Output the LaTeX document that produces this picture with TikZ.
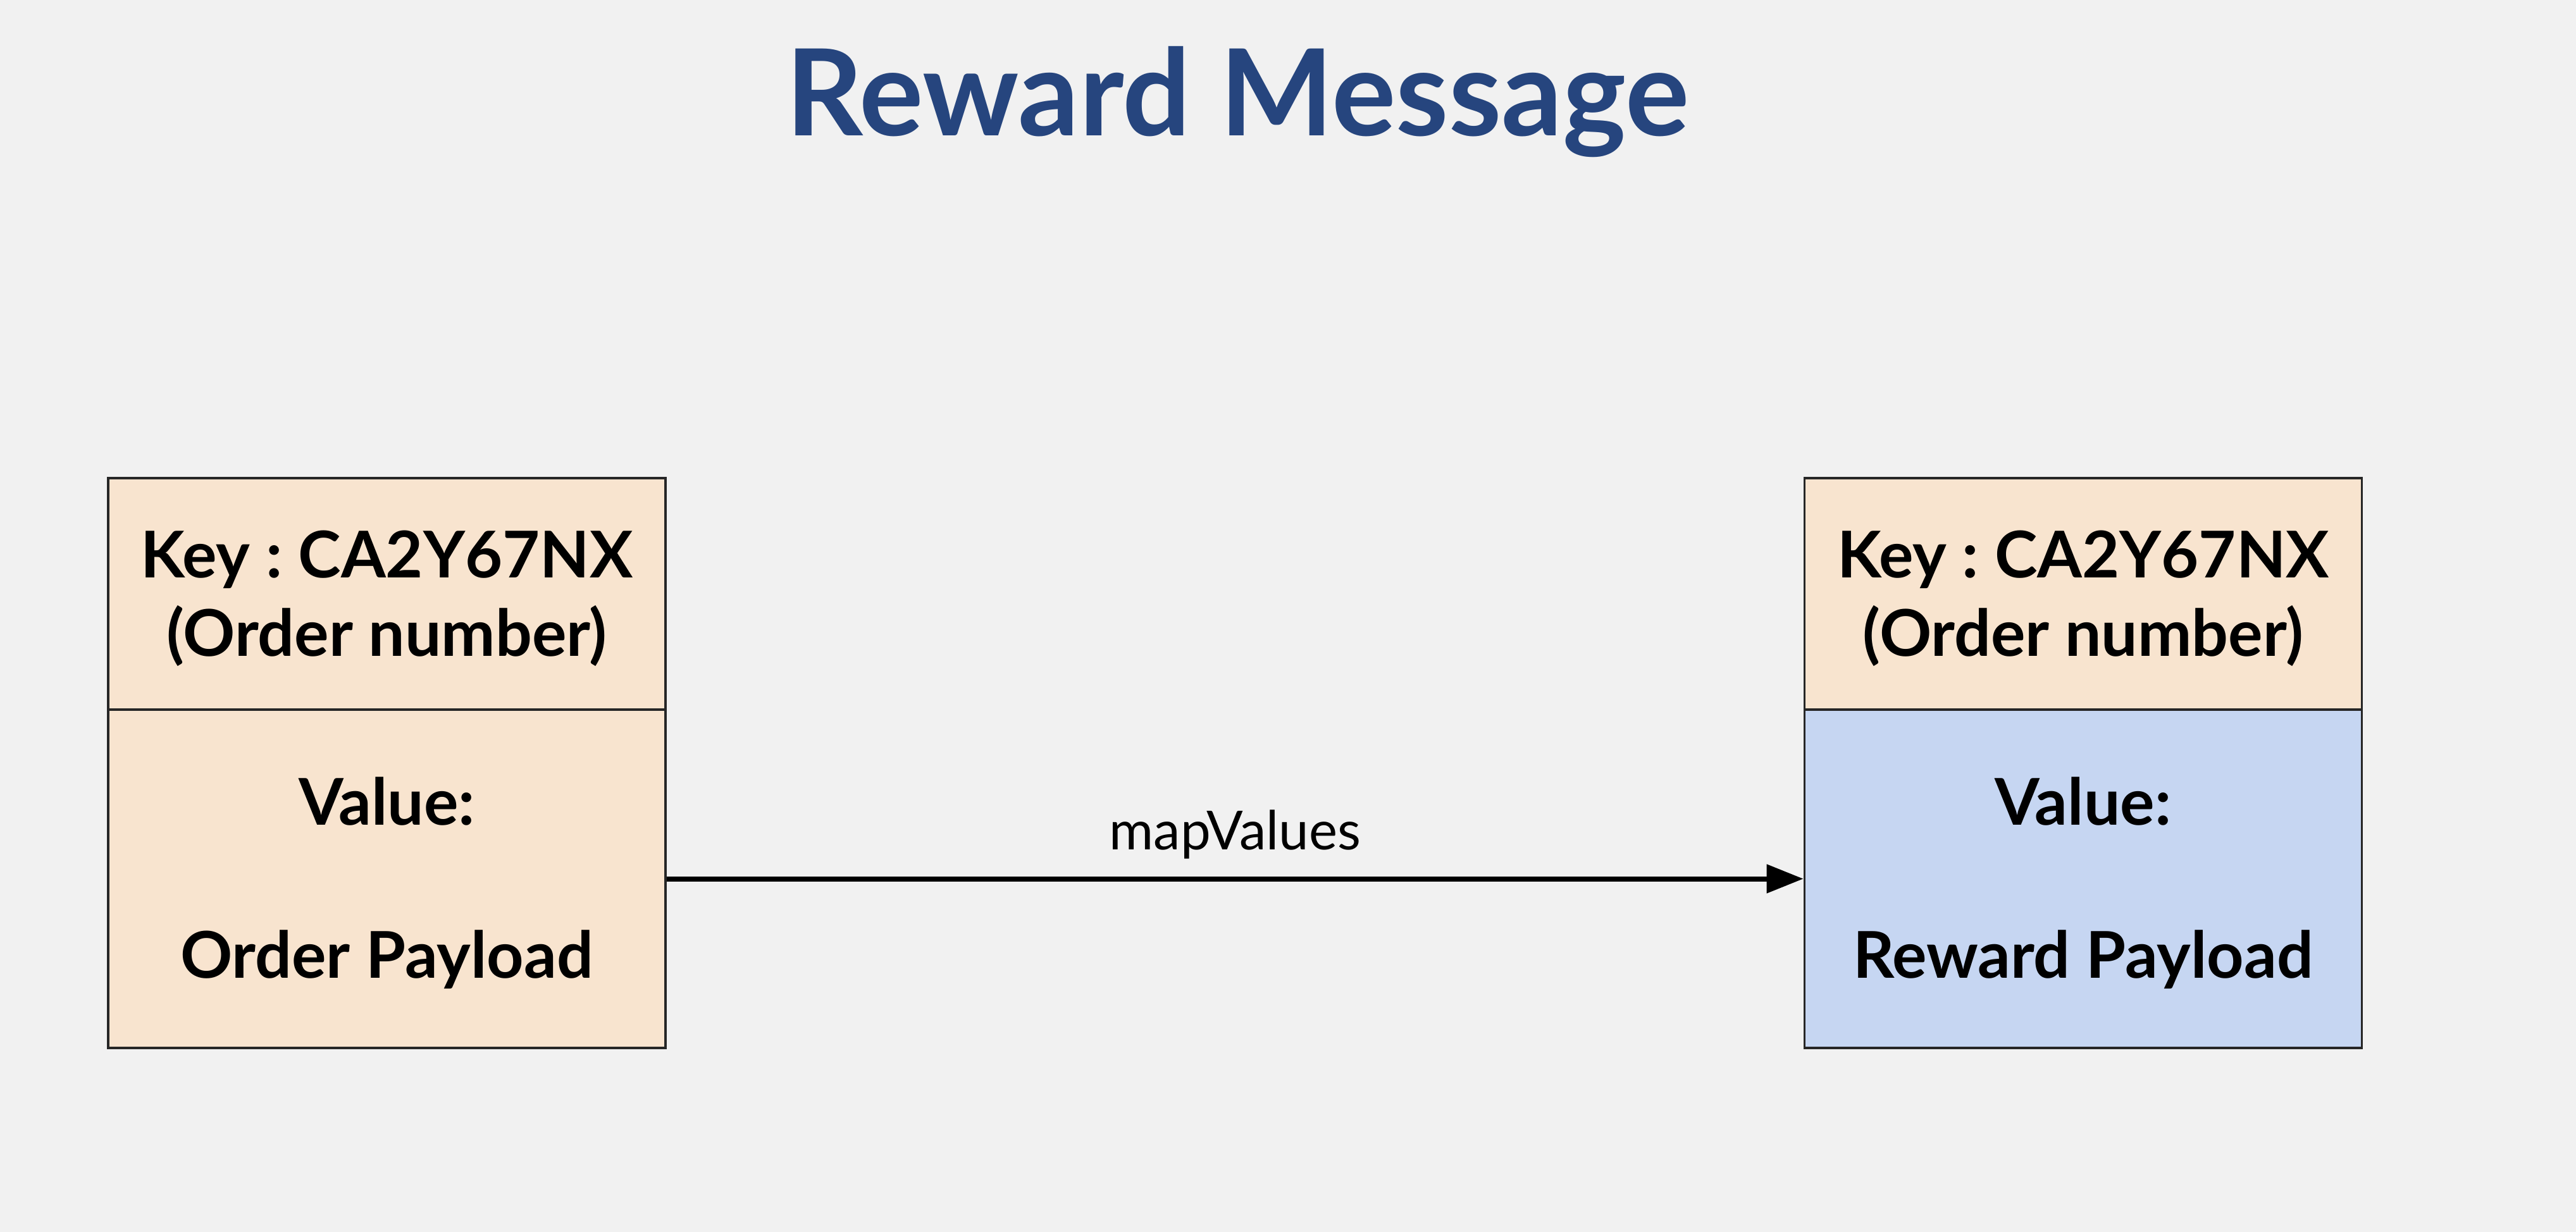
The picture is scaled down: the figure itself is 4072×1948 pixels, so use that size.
\documentclass[tikz,border=0pt]{standalone}
\usepackage{fontspec}
\setmainfont{Lato}
\frenchspacing
\usetikzlibrary{arrows.meta}
\definecolor{bgc}{HTML}{F1F1F1}
\definecolor{peach}{HTML}{F8E4CF}
\definecolor{paleblue}{HTML}{C6D6F2}
\definecolor{titleblue}{HTML}{26457E}
\tikzset{
  partbox/.style={draw=black!85, line width=0.9pt, minimum width=220.25pt, inner sep=0pt},
  keypart/.style={partbox, fill=peach, minimum height=91.5pt},
  valpart/.style={partbox, minimum height=133.75pt},
  boxtext/.style={anchor=base, inner sep=0pt, font=\fontsize{25.5pt}{31pt}\selectfont\bfseries},
  titletext/.style={anchor=base, inner sep=0pt, text=titleblue, font=\fontsize{47.5pt}{57pt}\selectfont\bfseries},
  edgetext/.style={anchor=base, inner sep=0pt, font=\fontsize{21.3pt}{26pt}\selectfont},
  maparrow/.style={line width=2pt, -{Triangle[length=14.5pt,width=11pt]}}
}
\begin{document}
\begin{tikzpicture}[x=0.25pt, y=-0.25pt]
\fill[bgc] (0,0) rectangle (4072,1948);
\useasboundingbox (0,0) rectangle (4072,1948);
% title
\node[titletext] (title) at (1956,215) {Reward Message};
% left box
\node[keypart] (lkey) at (611.5,939) {};
\node[valpart, fill=peach] (lval) at (611.5,1389.5) {};
\node[boxtext] (lk1) at (611.5,913) {Key : CA2Y67NX};
\node[boxtext] (lk2) at (611.5,1037) {(Order number)};
\node[boxtext] (lv1) at (611.5,1304) {Value:};
\node[boxtext] (lv2) at (611.5,1546) {Order Payload};
% right box
\node[keypart] (rkey) at (3293,939) {};
\node[valpart, fill=paleblue] (rval) at (3293,1389.5) {};
\node[boxtext] (rk1) at (3293,913) {Key : CA2Y67NX};
\node[boxtext] (rk2) at (3293,1037) {(Order number)};
\node[boxtext] (rv1) at (3293,1304) {Value:};
\node[boxtext] (rv2) at (3293,1546) {Reward Payload};
% connector
\draw[maparrow] (lval.east) -- (rval.west)
  node[midway, edgetext, yshift=11.5pt] (maplabel) {mapValues};
\end{tikzpicture}
\end{document}
